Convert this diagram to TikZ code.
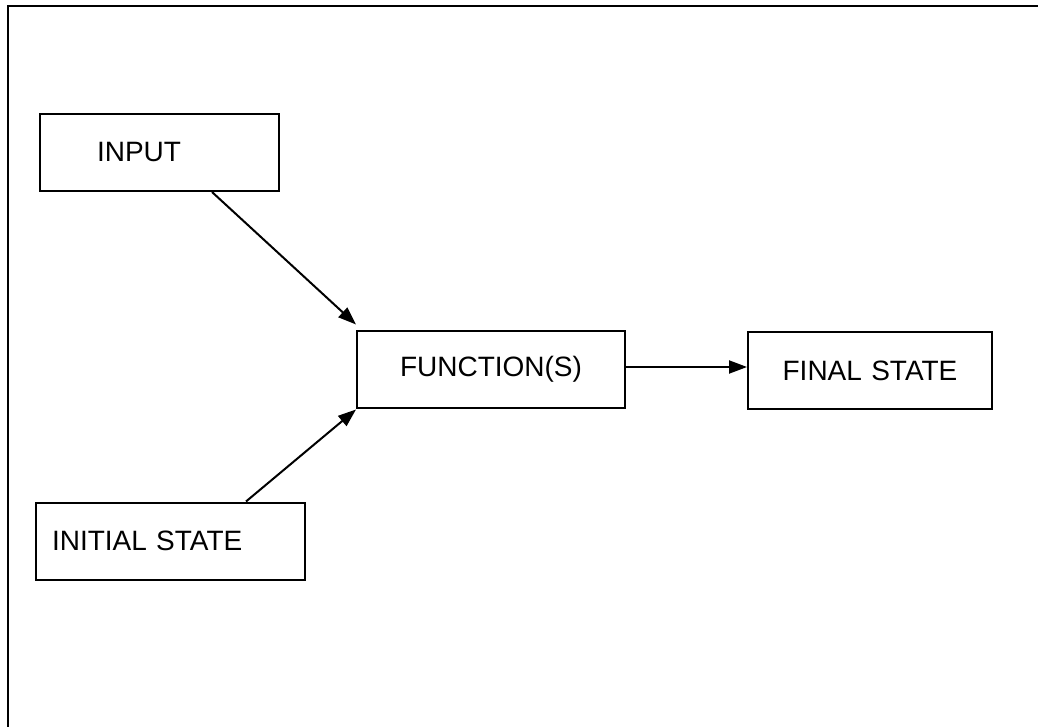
\documentclass[tikz,border=0pt]{standalone}
\usepackage{fontspec}
\setmainfont{Liberation Sans}
\usetikzlibrary{arrows.meta,calc}
\begin{document}
\begin{tikzpicture}[x=1pt,y=-1pt,
  box/.style={draw, line width=2pt, minimum height=77pt, inner ysep=0pt,
    font=\fontsize{28}{34}\selectfont, align=left},
  conn/.style={line width=2pt, -{Triangle[length=18pt,width=13pt]}},
  frame/.style={line width=2.8pt}]
\useasboundingbox (0,0) rectangle (1038,727);
\draw[frame] (8,727) -- (8,6) -- (1038,6);
\node[box, inner xsep=57pt, text width=125pt] (input) at (159.5,152.5) {INPUT};
\node[box, inner xsep=16pt, text width=237pt] (init) at (170.5,541) {\raisebox{-3pt}{INITIAL STATE}};
\node[box, inner xsep=30pt, text width=208pt, align=center] (func) at (491,369) {FUNCTION(S)};
\node[box, inner xsep=25pt, text width=194pt, align=center] (final) at (870,370.5) {\raisebox{-4pt}{FINAL STATE}};
\draw[conn] ([xshift=173pt]input.south west) -- ([yshift=5pt]func.north west);
\draw[conn] ([xshift=211pt]init.north west) -- ([yshift=-1pt]func.south west);
\draw[conn] ([yshift=2pt]func.east) -- ([yshift=2pt]func.east -| final.west);
\end{tikzpicture}
\end{document}
